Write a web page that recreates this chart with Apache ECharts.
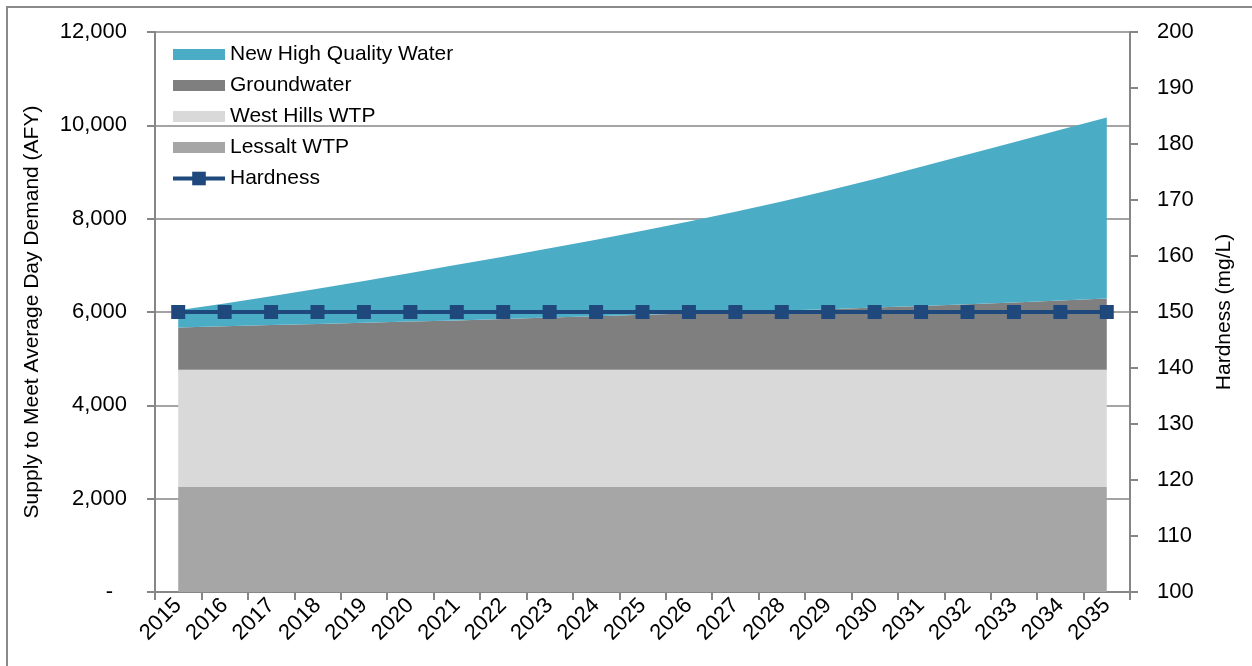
<!DOCTYPE html>
<html>
<head>
<meta charset="utf-8">
<title>Supply to Meet Average Day Demand</title>
<script src="https://cdn.jsdelivr.net/npm/echarts@6/dist/echarts.min.js"></script>
<style>
  html, body { margin: 0; padding: 0; background: #ffffff; }
  #chart { width: 1252px; height: 666px; }
</style>
</head>
<body>
<div id="chart"></div>
<script>
// Years on the category axis
const years = ['2015','2016','2017','2018','2019','2020','2021','2022','2023','2024','2025',
               '2026','2027','2028','2029','2030','2031','2032','2033','2034','2035'];

// Supply components (AFY), stacked bottom to top
const lessaltWTP = [2250,2250,2250,2250,2250,2250,2250,2250,2250,2250,2250,
                    2250,2250,2250,2250,2250,2250,2250,2250,2250,2250];
const westHillsWTP = [2510,2510,2510,2510,2510,2510,2510,2510,2510,2510,2510,
                      2510,2510,2510,2510,2510,2510,2510,2510,2510,2510];
const groundwater = [910,935,960,985,1010,1035,1060,1090,1120,1150,1180,
                     1210,1240,1270,1300,1335,1370,1405,1445,1485,1530];
const newHighQualityWater = [370,485,615,755,895,1040,1190,1335,1485,1640,1800,
                             1970,2150,2340,2545,2755,2980,3210,3435,3660,3880];

// Hardness (mg/L) on the secondary axis
const hardness = [150,150,150,150,150,150,150,150,150,150,150,
                  150,150,150,150,150,150,150,150,150,150];

const FONT = "'Liberation Sans', Arial, sans-serif";
const AXIS_GRAY = '#868686';
const HARDNESS_BLUE = '#1F497D';

const chart = echarts.init(document.getElementById('chart'), null, { renderer: 'canvas' });

function areaSeries(name, data, color) {
  return {
    name: name,
    type: 'line',
    stack: 'supply',
    data: data,
    showSymbol: false,
    symbol: 'none',
    lineStyle: { width: 0, color: color },
    itemStyle: { color: color },
    areaStyle: { color: color, opacity: 1 },
    silent: true,
    z: 2
  };
}

const legendText = { fontFamily: FONT, fontSize: 21, color: '#000000' };

chart.setOption({
  animation: false,
  backgroundColor: '#ffffff',
  graphic: [{
    type: 'rect',
    shape: { x: 7, y: 7, width: 1300, height: 700 },
    style: { fill: 'none', stroke: '#8a8a8a', lineWidth: 2 },
    z: -10,
    silent: true
  }],
  grid: { left: 155, right: 122, top: 32, bottom: 74, containLabel: false },
  legend: [
    {
      orient: 'vertical',
      left: 168,
      top: 39,
      itemWidth: 52,
      itemHeight: 11,
      itemGap: 10,
      textStyle: legendText,
      data: [
        { name: 'New High Quality Water', icon: 'rect' },
        { name: 'Groundwater', icon: 'rect' },
        { name: 'West Hills WTP', icon: 'rect' },
        { name: 'Lessalt WTP', icon: 'rect' }
      ]
    },
    {
      orient: 'vertical',
      left: 166,
      top: 163,
      itemWidth: 52,
      itemHeight: 17,
      textStyle: legendText,
      lineStyle: { width: 4 },
      data: ['Hardness']
    }
  ],
  xAxis: {
    type: 'category',
    data: years,
    boundaryGap: true,
    axisLine: { lineStyle: { color: AXIS_GRAY, width: 2 } },
    axisTick: { show: true, interval: 0, length: 8, lineStyle: { color: AXIS_GRAY, width: 2 } },
    axisLabel: {
      interval: 0,
      rotate: 45,
      margin: 10,
      fontFamily: FONT,
      fontSize: 22,
      color: '#000000'
    },
    splitLine: { show: false }
  },
  yAxis: [
    {
      type: 'value',
      min: 0,
      max: 12000,
      interval: 2000,
      position: 'left',
      name: 'Supply to Meet Average Day Demand (AFY)',
      nameLocation: 'middle',
      nameRotate: 90,
      nameGap: 112,
      nameTextStyle: { fontFamily: FONT, fontSize: 21, color: '#000000' },
      axisLine: { show: true, lineStyle: { color: AXIS_GRAY, width: 2 } },
      axisTick: { show: true, length: 8, lineStyle: { color: AXIS_GRAY, width: 2 } },
      axisLabel: {
        margin: 28,
        fontFamily: FONT,
        fontSize: 22,
        color: '#000000',
        formatter: function (v) {
          return v === 0 ? '{dash|-}' : v.toLocaleString('en-US');
        },
        rich: {
          dash: { fontFamily: FONT, fontSize: 22, color: '#000000', padding: [0, 14, 0, 0] }
        }
      },
      splitLine: { show: true, lineStyle: { color: AXIS_GRAY, width: 1.5 } }
    },
    {
      type: 'value',
      min: 100,
      max: 200,
      interval: 10,
      position: 'right',
      name: 'Hardness (mg/L)',
      nameLocation: 'middle',
      nameRotate: 90,
      nameGap: 84,
      nameTextStyle: { fontFamily: FONT, fontSize: 21, color: '#000000' },
      axisLine: { show: true, lineStyle: { color: AXIS_GRAY, width: 2 } },
      axisTick: { show: true, length: 8, lineStyle: { color: AXIS_GRAY, width: 2 } },
      axisLabel: { margin: 27, fontFamily: FONT, fontSize: 22, color: '#000000' },
      splitLine: { show: false }
    }
  ],
  series: [
    areaSeries('Lessalt WTP', lessaltWTP, '#A6A6A6'),
    areaSeries('West Hills WTP', westHillsWTP, '#D9D9D9'),
    areaSeries('Groundwater', groundwater, '#7F7F7F'),
    areaSeries('New High Quality Water', newHighQualityWater, '#4BACC6'),
    {
      name: 'Hardness',
      type: 'line',
      yAxisIndex: 1,
      data: hardness,
      symbol: 'rect',
      symbolSize: 14,
      showAllSymbol: true,
      lineStyle: { color: HARDNESS_BLUE, width: 4 },
      itemStyle: { color: HARDNESS_BLUE, borderWidth: 0 },
      z: 5
    }
  ]
});
</script>
</body>
</html>
